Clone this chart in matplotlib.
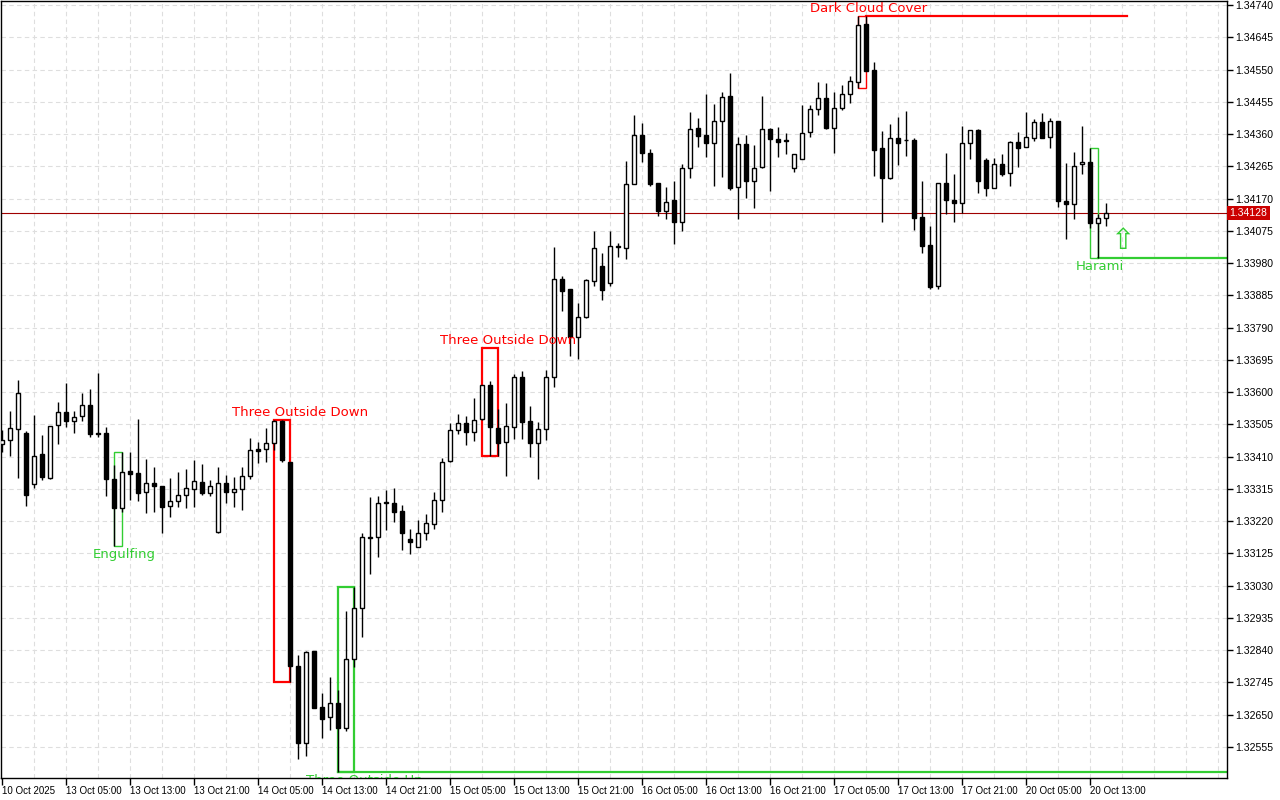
import matplotlib
matplotlib.use('Agg')
import matplotlib.pyplot as plt
from matplotlib.patches import Rectangle
from matplotlib import transforms
import numpy as np

# hourly candles, 10 Oct 21:00 -> 20 Oct 15:00
opens = [1.33447, 1.33459, 1.33491, 1.33480, 1.33329, 1.33418, 1.33347, 1.33503, 1.33541, 1.33515,
         1.33530, 1.33562, 1.33480, 1.33480, 1.33344, 1.33259, 1.33368, 1.33362, 1.33306, 1.33332,
         1.33324, 1.33265, 1.33279, 1.33297, 1.33315, 1.33335, 1.33303, 1.33188, 1.33332, 1.33306,
         1.33315, 1.33353, 1.33433, 1.33433, 1.33450, 1.33515, 1.33394, 1.32794, 1.32567, 1.32838,
         1.32673, 1.32643, 1.32685, 1.32611, 1.32814, 1.32964, 1.33170, 1.33173, 1.33274, 1.33274,
         1.33250, 1.33168, 1.33144, 1.33185, 1.33212, 1.33282, 1.33397, 1.33488, 1.33509, 1.33483,
         1.33521, 1.33621, 1.33494, 1.33453, 1.33497, 1.33645, 1.33515, 1.33450, 1.33491, 1.33645,
         1.33933, 1.33904, 1.33762, 1.33821, 1.33927, 1.33971, 1.33921, 1.34027, 1.34024, 1.34213,
         1.34357, 1.34304, 1.34216, 1.34133, 1.34166, 1.34101, 1.34260, 1.34378, 1.34357, 1.34334,
         1.34398, 1.34472, 1.34204, 1.34331, 1.34222, 1.34263, 1.34375, 1.34345, 1.34340, 1.34260,
         1.34287, 1.34366, 1.34434, 1.34466, 1.34378, 1.34437, 1.34478, 1.34513, 1.34684, 1.34549,
         1.34319, 1.34231, 1.34348, 1.34342, 1.34342, 1.34116, 1.34033, 1.33913, 1.34216, 1.34166,
         1.34157, 1.34334, 1.34372, 1.34284, 1.34201, 1.34272, 1.34245, 1.34337, 1.34322, 1.34348,
         1.34395, 1.34351, 1.34398, 1.34163, 1.34154, 1.34272, 1.34278, 1.34098, 1.34113]
highs = [1.33488, 1.33544, 1.33636, 1.33486, 1.33533, 1.33474, 1.33500, 1.33571, 1.33627, 1.33544,
         1.33597, 1.33609, 1.33656, 1.33497, 1.33385, 1.33424, 1.33424, 1.33521, 1.33403, 1.33380,
         1.33324, 1.33347, 1.33365, 1.33374, 1.33400, 1.33388, 1.33341, 1.33380, 1.33356, 1.33350,
         1.33380, 1.33465, 1.33453, 1.33494, 1.33518, 1.33518, 1.33394, 1.32826, 1.32838, 1.32838,
         1.32714, 1.32761, 1.32723, 1.32956, 1.33026, 1.33185, 1.33291, 1.33294, 1.33312, 1.33318,
         1.33268, 1.33197, 1.33223, 1.33241, 1.33306, 1.33406, 1.33509, 1.33536, 1.33530, 1.33583,
         1.33621, 1.33633, 1.33550, 1.33568, 1.33653, 1.33662, 1.33559, 1.33512, 1.33665, 1.34027,
         1.33942, 1.33904, 1.33862, 1.33933, 1.34075, 1.34010, 1.34075, 1.34039, 1.34281, 1.34416,
         1.34393, 1.34316, 1.34216, 1.34204, 1.34222, 1.34272, 1.34425, 1.34407, 1.34478, 1.34449,
         1.34484, 1.34540, 1.34351, 1.34357, 1.34328, 1.34472, 1.34378, 1.34381, 1.34363, 1.34301,
         1.34446, 1.34446, 1.34513, 1.34510, 1.34484, 1.34504, 1.34531, 1.34708, 1.34708, 1.34572,
         1.34369, 1.34390, 1.34410, 1.34428, 1.34348, 1.34222, 1.34089, 1.34216, 1.34304, 1.34242,
         1.34384, 1.34372, 1.34375, 1.34290, 1.34290, 1.34301, 1.34340, 1.34366, 1.34425, 1.34404,
         1.34422, 1.34407, 1.34398, 1.34275, 1.34307, 1.34384, 1.34319, 1.34125, 1.34157]
lows = [1.33424, 1.33412, 1.33347, 1.33265, 1.33318, 1.33341, 1.33344, 1.33447, 1.33497, 1.33480,
        1.33515, 1.33468, 1.33468, 1.33294, 1.33147, 1.33247, 1.33282, 1.33279, 1.33244, 1.33247,
        1.33185, 1.33232, 1.33262, 1.33259, 1.33262, 1.33297, 1.33294, 1.33185, 1.33274, 1.33262,
        1.33253, 1.33344, 1.33391, 1.33394, 1.33430, 1.33394, 1.32746, 1.32520, 1.32529, 1.32670,
        1.32582, 1.32605, 1.32481, 1.32602, 1.32791, 1.32879, 1.33064, 1.33115, 1.33194, 1.33218,
        1.33135, 1.33123, 1.33144, 1.33165, 1.33197, 1.33247, 1.33394, 1.33477, 1.33444, 1.33456,
        1.33518, 1.33412, 1.33412, 1.33353, 1.33462, 1.33462, 1.33409, 1.33344, 1.33459, 1.33615,
        1.33839, 1.33706, 1.33698, 1.33818, 1.33913, 1.33871, 1.33913, 1.33998, 1.33992, 1.34213,
        1.34278, 1.34207, 1.34119, 1.34110, 1.34036, 1.34075, 1.34231, 1.34322, 1.34292, 1.34207,
        1.34234, 1.34195, 1.34110, 1.34172, 1.34142, 1.34260, 1.34192, 1.34292, 1.34301, 1.34248,
        1.34287, 1.34351, 1.34416, 1.34375, 1.34304, 1.34431, 1.34451, 1.34496, 1.34546, 1.34236,
        1.34101, 1.34228, 1.34269, 1.34295, 1.34077, 1.34010, 1.33904, 1.33904, 1.34125, 1.34101,
        1.34128, 1.34287, 1.34186, 1.34178, 1.34201, 1.34236, 1.34207, 1.34263, 1.34322, 1.34340,
        1.34348, 1.34319, 1.34145, 1.34051, 1.34110, 1.34242, 1.34083, 1.33995, 1.34089]
closes = [1.33459, 1.33494, 1.33597, 1.33297, 1.33412, 1.33350, 1.33500, 1.33541, 1.33515, 1.33527,
          1.33562, 1.33477, 1.33477, 1.33344, 1.33259, 1.33365, 1.33359, 1.33303, 1.33332, 1.33324,
          1.33262, 1.33279, 1.33297, 1.33318, 1.33338, 1.33303, 1.33324, 1.33332, 1.33306, 1.33315,
          1.33353, 1.33430, 1.33427, 1.33450, 1.33515, 1.33400, 1.32794, 1.32567, 1.32835, 1.32670,
          1.32637, 1.32685, 1.32611, 1.32814, 1.32964, 1.33173, 1.33173, 1.33274, 1.33276, 1.33247,
          1.33185, 1.33159, 1.33185, 1.33215, 1.33282, 1.33394, 1.33488, 1.33509, 1.33483, 1.33518,
          1.33621, 1.33497, 1.33450, 1.33500, 1.33645, 1.33512, 1.33450, 1.33491, 1.33645, 1.33933,
          1.33898, 1.33762, 1.33821, 1.33930, 1.34024, 1.33901, 1.34030, 1.34029, 1.34213, 1.34357,
          1.34304, 1.34213, 1.34133, 1.34160, 1.34101, 1.34260, 1.34375, 1.34354, 1.34334, 1.34398,
          1.34469, 1.34201, 1.34331, 1.34222, 1.34260, 1.34375, 1.34345, 1.34337, 1.34341, 1.34301,
          1.34363, 1.34434, 1.34466, 1.34378, 1.34437, 1.34478, 1.34516, 1.34681, 1.34546, 1.34313,
          1.34231, 1.34348, 1.34334, 1.34343, 1.34113, 1.34030, 1.33910, 1.34216, 1.34166, 1.34157,
          1.34334, 1.34372, 1.34222, 1.34201, 1.34272, 1.34242, 1.34337, 1.34319, 1.34351, 1.34395,
          1.34348, 1.34398, 1.34163, 1.34154, 1.34266, 1.34278, 1.34098, 1.34113, 1.34128]

time_tick_pos = [0, 8, 16, 24, 32, 40, 48, 56, 64, 72, 80, 88, 96, 104, 112, 120, 128, 136]
time_tick_text = ["10 Oct 2025", "13 Oct 05:00", "13 Oct 13:00", "13 Oct 21:00", "14 Oct 05:00",
                  "14 Oct 13:00", "14 Oct 21:00", "15 Oct 05:00", "15 Oct 13:00", "15 Oct 21:00",
                  "16 Oct 05:00", "16 Oct 13:00", "16 Oct 21:00", "17 Oct 05:00", "17 Oct 13:00",
                  "17 Oct 21:00", "20 Oct 05:00", "20 Oct 13:00"]

# candlestick patterns found by the indicator
pat_names = ["Engulfing", "Three Outside Down", "Three Outside Up", "Three Outside Down",
             "Dark Cloud Cover", "Harami"]
pat_start = [14, 34, 42, 60, 107, 136]
pat_end = [15, 36, 44, 62, 108, 137]
pat_top = [1.33424, 1.33518, 1.33026, 1.33730, 1.34708, 1.34319]
pat_bottom = [1.33147, 1.32746, 1.32481, 1.33412, 1.34496, 1.33995]
pat_bull = [True, False, True, False, False, True]
pat_label_x = [15.3, 37.3, 45.3, 63.3, 108.3, 137.25]

# level lines: start bar, end bar, price, bullish
lvl_start = [42, 108, 137]
lvl_end = [153.2, 140.6, 153.2]
lvl_price = [1.32481, 1.34708, 1.33995]
lvl_bull = [True, False, True]

last_price = 1.34128
arrow_x = 140
arrow_y = 1.34045

RED = '#FF0000'
GREEN = '#32CD32'
AXFONT = 'Liberation Sans'

fig = plt.figure(figsize=(12.8, 8), dpi=100)
ax = fig.add_axes([1/1280, 22/800, 1226/1280, 777/800])
ax.set_xlim(-0.125, 153.125)
ax.set_ylim(1.324637, 1.347518)

price_ticks = [round(1.32555 + 0.00095 * k, 5) for k in range(24)]

# grid
for p in price_ticks:
    ax.axhline(p, color='#DEDEDE', lw=0.8, ls=(0, (4, 3)), zorder=0)
for gx in range(4, 154, 4):
    ax.axvline(gx, color='#DEDEDE', lw=0.8, ls=(0, (4, 3)), zorder=0)

o = np.array(opens)
h = np.array(highs)
l = np.array(lows)
c = np.array(closes)
x = np.arange(len(o))
up = c >= o
body_bot = np.minimum(o, c)
body_h = np.maximum(np.abs(c - o), 0.000012)

ax.vlines(x, l, h, color='black', lw=1, zorder=3)
ax.bar(x[up], body_h[up], bottom=body_bot[up], width=0.6, color='white',
       edgecolor='black', lw=1, zorder=4)
ax.bar(x[~up], body_h[~up], bottom=body_bot[~up], width=0.6, color='black',
       edgecolor='black', lw=1, zorder=4)

# pattern boxes and labels
above = transforms.offset_copy(ax.transData, fig=fig, x=0, y=1, units='dots')
below = transforms.offset_copy(ax.transData, fig=fig, x=0, y=-2, units='dots')
for i in range(len(pat_names)):
    col = GREEN if pat_bull[i] else RED
    lw = 1.0 if pat_end[i] - pat_start[i] == 1 else 1.6
    ax.add_patch(Rectangle((pat_start[i], pat_bottom[i]), pat_end[i] - pat_start[i],
                           pat_top[i] - pat_bottom[i], fill=False, ec=col, lw=lw, zorder=2))
    if pat_bull[i]:
        ax.text(pat_label_x[i], pat_bottom[i], pat_names[i], color=col, fontsize=9.5,
                ha='center', va='top', transform=below, clip_on=True, zorder=5)
    else:
        ax.text(pat_label_x[i], pat_top[i], pat_names[i], color=col, fontsize=9.5,
                ha='center', va='bottom', transform=above, clip_on=True, zorder=5)

for i in range(len(lvl_price)):
    col = GREEN if lvl_bull[i] else RED
    ax.plot([lvl_start[i], lvl_end[i]], [lvl_price[i], lvl_price[i]], color=col, lw=1.6, zorder=2)

ax.text(arrow_x, arrow_y, '\u21e7', color=GREEN, fontsize=21, ha='center', va='center', zorder=5)

# last price line and tag
ax.axhline(last_price, color='#A00000', lw=0.8, zorder=1)
ax.text(1.002, last_price, f'{last_price:.5f}', transform=ax.get_yaxis_transform(),
        color='white', fontsize=7.5, family=AXFONT, ha='left', va='center',
        bbox=dict(boxstyle='square,pad=0.22', fc='#CC0000', ec='none'), zorder=6)

ax.yaxis.tick_right()
ax.set_yticks(price_ticks)
ax.set_yticklabels([f'{p:.5f}' for p in price_ticks], family=AXFONT, fontsize=7.6)
ax.set_xticks(time_tick_pos)
ax.set_xticklabels(time_tick_text, ha='left', family=AXFONT, fontsize=7)
ax.tick_params(axis='y', length=4, width=1, pad=2, direction='out')
ax.tick_params(axis='x', length=5, width=1, pad=1, direction='out')
for s in ax.spines.values():
    s.set_color('black')
    s.set_linewidth(1)

fig.savefig('out.png', dpi=100)
